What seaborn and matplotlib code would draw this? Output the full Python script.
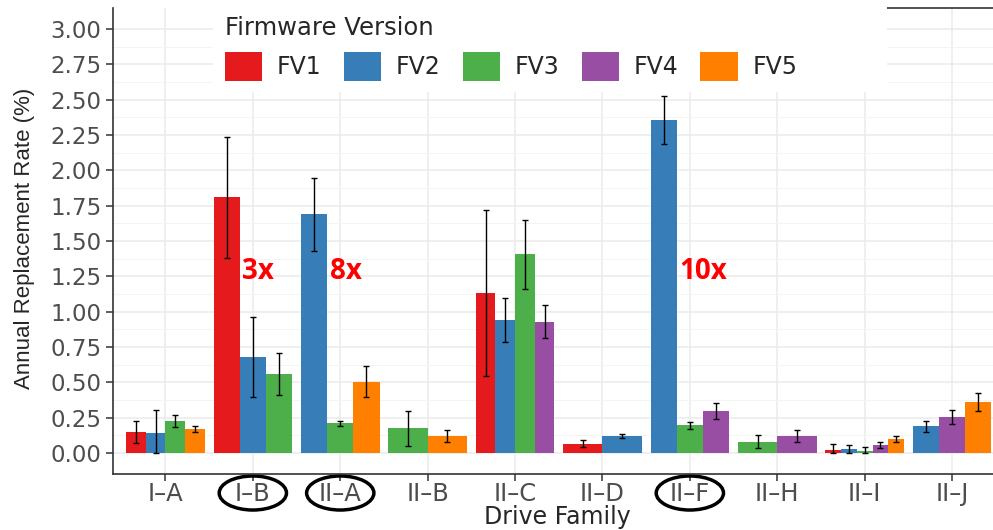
import numpy as np
import pandas as pd
import matplotlib
matplotlib.use("Agg")
import matplotlib.pyplot as plt
import seaborn as sns
from matplotlib.patches import Patch, Ellipse, Rectangle

nan = np.nan

families = ["I–A", "I–B", "II–A", "II–B", "II–C", "II–D", "II–F", "II–H", "II–I", "II–J"]
versions = ["FV1", "FV2", "FV3", "FV4", "FV5"]
colors = ["#E41A1C", "#377EB8", "#4DAF4A", "#984EA3", "#FF7F00"]

# annual replacement rate (%) and error bar ends, one list per firmware version
rate_fv1 = [0.149, 1.809, nan, nan, 1.131, 0.062, nan, nan, 0.019, nan]
low_fv1 = [0.067, 1.381, nan, nan, 0.541, 0.038, nan, nan, 0.000, nan]
high_fv1 = [0.227, 2.234, nan, nan, 1.721, 0.092, nan, nan, 0.064, nan]

rate_fv2 = [0.139, 0.678, 1.690, nan, 0.940, 0.118, 2.356, nan, 0.026, 0.189]
low_fv2 = [0.000, 0.392, 1.428, nan, 0.784, 0.102, 2.184, nan, 0.000, 0.149]
high_fv2 = [0.300, 0.959, 1.948, nan, 1.093, 0.130, 2.524, nan, 0.055, 0.227]

rate_fv3 = [0.224, 0.557, 0.210, 0.175, 1.407, nan, 0.196, 0.076, 0.012, nan]
low_fv3 = [0.180, 0.409, 0.187, 0.050, 1.159, nan, 0.170, 0.031, 0.000, nan]
high_fv3 = [0.269, 0.704, 0.227, 0.295, 1.650, nan, 0.215, 0.125, 0.043, nan]

rate_fv4 = [nan, nan, nan, nan, 0.926, nan, 0.295, 0.118, 0.055, 0.253]
low_fv4 = [nan, nan, nan, nan, 0.810, nan, 0.236, 0.076, 0.035, 0.201]
high_fv4 = [nan, nan, nan, nan, 1.044, nan, 0.350, 0.159, 0.076, 0.302]

rate_fv5 = [0.168, nan, 0.501, 0.118, nan, nan, nan, nan, 0.097, 0.359]
low_fv5 = [0.147, nan, 0.392, 0.076, nan, nan, nan, nan, 0.074, 0.295]
high_fv5 = [0.191, nan, 0.612, 0.161, nan, nan, nan, nan, 0.120, 0.423]

# highlighted families and ratio notes
circled = ["I–B", "II–A", "II–F"]
notes = ["3x", "8x", "10x"]

rates = [rate_fv1, rate_fv2, rate_fv3, rate_fv4, rate_fv5]
lows = [low_fv1, low_fv2, low_fv3, low_fv4, low_fv5]
highs = [high_fv1, high_fv2, high_fv3, high_fv4, high_fv5]

rows = []
for v, r, lo, hi in zip(versions, rates, lows, highs):
    for i, fam in enumerate(families):
        if not np.isnan(r[i]):
            rows.append({"family": fam, "pos": i, "version": v,
                         "rate": r[i], "low": lo[i], "high": hi[i]})
df = pd.DataFrame(rows)

sns.set_theme(style="white")
plt.rcParams["font.family"] = ["DejaVu Sans"]

fig = plt.figure(figsize=(9.93, 5.30), dpi=100)
ax = fig.add_axes([113 / 993, 56 / 530, 891.5 / 993, 466 / 530])
palette = dict(zip(versions, colors))

# ggplot-like dodge: bars of one family fill the whole slot
for i, fam in enumerate(families):
    sub = df[df["family"] == fam]
    order = [v for v in versions if v in set(sub["version"])]
    n_before = len(ax.patches)
    sns.barplot(data=sub, x="pos", y="rate", hue="version", hue_order=order,
                palette=[palette[v] for v in order], native_scale=True, orient="x",
                dodge=True, width=0.9, gap=0, saturation=1, errorbar=None,
                legend=False, linewidth=0, edgecolor="none", ax=ax)
    bars = sorted(ax.patches[n_before:], key=lambda p: p.get_x())
    sub = sub.set_index("version").loc[order]
    xs = [b.get_x() + b.get_width() / 2 for b in bars]
    ax.errorbar(xs, sub["rate"], yerr=[sub["rate"] - sub["low"], sub["high"] - sub["rate"]],
                fmt="none", ecolor="black", elinewidth=1.0, capsize=2.3,
                capthick=1.0, zorder=3)

ax.set_xlim(-0.6, len(families) - 0.4)
ax.set_ylim(-0.15, 3.15)
ax.set_xticks(range(len(families)))
ax.set_xticklabels(families)
yt = np.arange(0, 3.01, 0.25)
ax.set_yticks(yt)
ax.set_yticklabels(["%.2f" % t for t in yt])
ax.set_yticks(yt[:-1] + 0.125, minor=True)
ax.set_xlabel("")
ax.set_ylabel("")

ax.set_axisbelow(True)
ax.grid(which="major", color="#EBEBEB", lw=1.1)
ax.grid(which="minor", axis="y", color="#F3F3F3", lw=0.6)
ax.tick_params(axis="x", which="major", length=4.8, width=1.1, color="#333333",
               labelsize=17.5, labelcolor="#4D4D4D", pad=1.2, bottom=True)
ax.tick_params(axis="y", which="major", length=4.8, width=1.1, color="#333333",
               labelsize=16.5, labelcolor="#4D4D4D", pad=3.6, left=True)
ax.tick_params(which="minor", length=0)

for side in ["left", "bottom", "top"]:
    ax.spines[side].set_color("#333333")
    ax.spines[side].set_linewidth(1.2)
ax.spines["right"].set_visible(False)
ax.spines["top"].set_bounds(8.0, len(families) - 0.4)

for fam, note in zip(circled, notes):
    i = families.index(fam)
    ax.text(i - 0.15 + 0.03, 1.23, note, color="#FF0000", fontsize=20,
            fontweight="bold", family=["Open Sans", "DejaVu Sans"], va="baseline", ha="left")
    ax.add_patch(Ellipse((i, -0.0408), width=0.77, height=0.073,
                         transform=ax.get_xaxis_transform(), fill=False,
                         lw=2.5, ec="black", clip_on=False))

fig.text(25 / 993, 1 - 238.5 / 530, "Annual Replacement Rate (%)", rotation=90,
         ha="center", va="center", fontsize=16, family=["Liberation Sans", "DejaVu Sans"])
fig.text(557 / 993, 1 - 517 / 530, "Drive Family", ha="center", va="center", fontsize=17)

# white legend panel sitting on top of the plot
fig.add_artist(Rectangle((213 / 993, 1 - 92 / 530), 674 / 993, 92 / 530,
                         transform=fig.transFigure, facecolor="white",
                         edgecolor="none", zorder=1))
handles = [Patch(facecolor=c, edgecolor="none") for c in colors]
fig.legend(handles, versions, title="Firmware Version", ncol=5, loc="upper left",
           bbox_to_anchor=(225 / 993, 1 - 16 / 530), frameon=False, borderpad=0,
           borderaxespad=0, fontsize=17, title_fontsize=17.5, handlelength=1.57,
           handleheight=1.55, handletextpad=0.62, columnspacing=0.95,
           labelspacing=0.5, alignment="left")

fig.savefig("out.png", dpi=100)
